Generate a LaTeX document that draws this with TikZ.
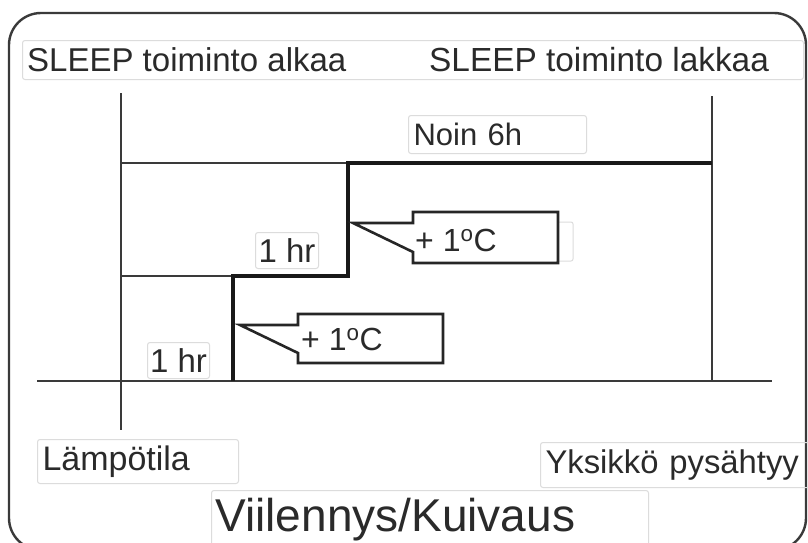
\documentclass[tikz,border=0pt]{standalone}
\usepackage{fontspec}
\setmainfont{Liberation Sans}
\newcommand\myfs[1]{\fontsize{#1}{#1}\selectfont}
\definecolor{txt}{HTML}{2A2A2A}
\definecolor{ln}{HTML}{3A3A3A}
\definecolor{bx}{HTML}{DCDCDC}
\begin{document}
\begin{tikzpicture}[x=1pt,y=-1pt,
  lbl/.style={draw=bx, line width=1pt, rounded corners=2.5pt, anchor=north west,
    inner xsep=5pt, inner ysep=0pt, align=left, text=txt},
  plain/.style={anchor=west, inner sep=0pt, text=txt},
  thin/.style={draw=ln, line width=2.2pt},
  thick/.style={draw=black!90, line width=4.6pt, line join=miter},
  callout/.style={draw=black!85, line width=2.6pt, line join=miter, fill=white},
  faint/.style={draw=bx, line width=1pt, rounded corners=2pt}]
\useasboundingbox (0,0) rectangle (808,542);
\fill[white] (0,0) rectangle (808,542);
% outer frame
\draw[draw=ln, line width=2.4pt, rounded corners=32pt] (9,13) rectangle (806,550);

% top labels
\node[lbl, minimum width=781pt, minimum height=39pt] (topbox) at (22,40) {};
\node[plain, font=\myfs{33}] (sa) at (27,59.5) {SLEEP toiminto alkaa};
\node[plain, font=\myfs{33.4}] (sl) at (429,59.5) {SLEEP toiminto lakkaa};

% axes and guide lines
\coordinate (lt) at (121,93);
\coordinate (lb) at (121,430);
\coordinate (rt) at (712,96);
\coordinate (rb) at (712,381);
\coordinate (bl) at (37,381);
\coordinate (br) at (772,381);
\coordinate (s0) at (233,381);
\coordinate (s1) at (233,276);
\coordinate (s2) at (348,276);
\coordinate (s3) at (348,163);
\coordinate (s4) at (712,163);
\coordinate (g1) at (121,163);
\coordinate (g2) at (121,276);
\draw[thin] (lt) -- (lb);
\draw[thin] (rt) -- (rb);
\draw[thin] (bl) -- (br);
\draw[thin] (g1) -- (s3);
\draw[thin] (g2) -- (s1);
\draw[thick] (s0) -- (s1) -- (s2) -- (s3) -- (s4);

% Noin 6h
\node[lbl, font=\myfs{31}, text width=168pt, minimum height=38pt] (noin) at (408,115) {Noin 6h};

% 1 hr labels
\node[lbl, font=\myfs{33}, inner xsep=2pt, minimum width=63pt, minimum height=36pt] (hr2) at (255,232) {1 hr};
\node[lbl, font=\myfs{33}, inner xsep=2pt, minimum width=62pt, minimum height=36pt] (hr1) at (147,342) {1 hr};

% upper callout
\draw[faint] (413,222) rectangle (573,261);
\draw[callout] (413,212) -- (558,212) -- (558,263) -- (413,263) -- (413,252) -- (353,223) -- (413,223) -- cycle;
\node[plain, font=\myfs{32}] (c2) at (415,240) {+ 1\textsuperscript{o}C};

% lower callout
\draw[faint] (298,323) rectangle (443,361);
\draw[callout] (298,314) -- (443,314) -- (443,363) -- (298,363) -- (298,353) -- (240,325) -- (298,325) -- cycle;
\node[plain, font=\myfs{32}] (c1) at (301,339) {+ 1\textsuperscript{o}C};

% bottom labels
\node[lbl, font=\myfs{34}, text width=191pt, minimum height=44pt] (lamp) at (37,439) {Lämpötila};
\node[lbl, font=\myfs{32.8}, text width=265pt, minimum height=45pt] (yks) at (540,442) {Yksikkö pysähtyy};
\node[lbl, font=\myfs{46}, inner xsep=4pt, text width=429pt, minimum height=58pt] (mode) at (211,490) {Viilennys/Kuivaus};
\end{tikzpicture}
\end{document}
